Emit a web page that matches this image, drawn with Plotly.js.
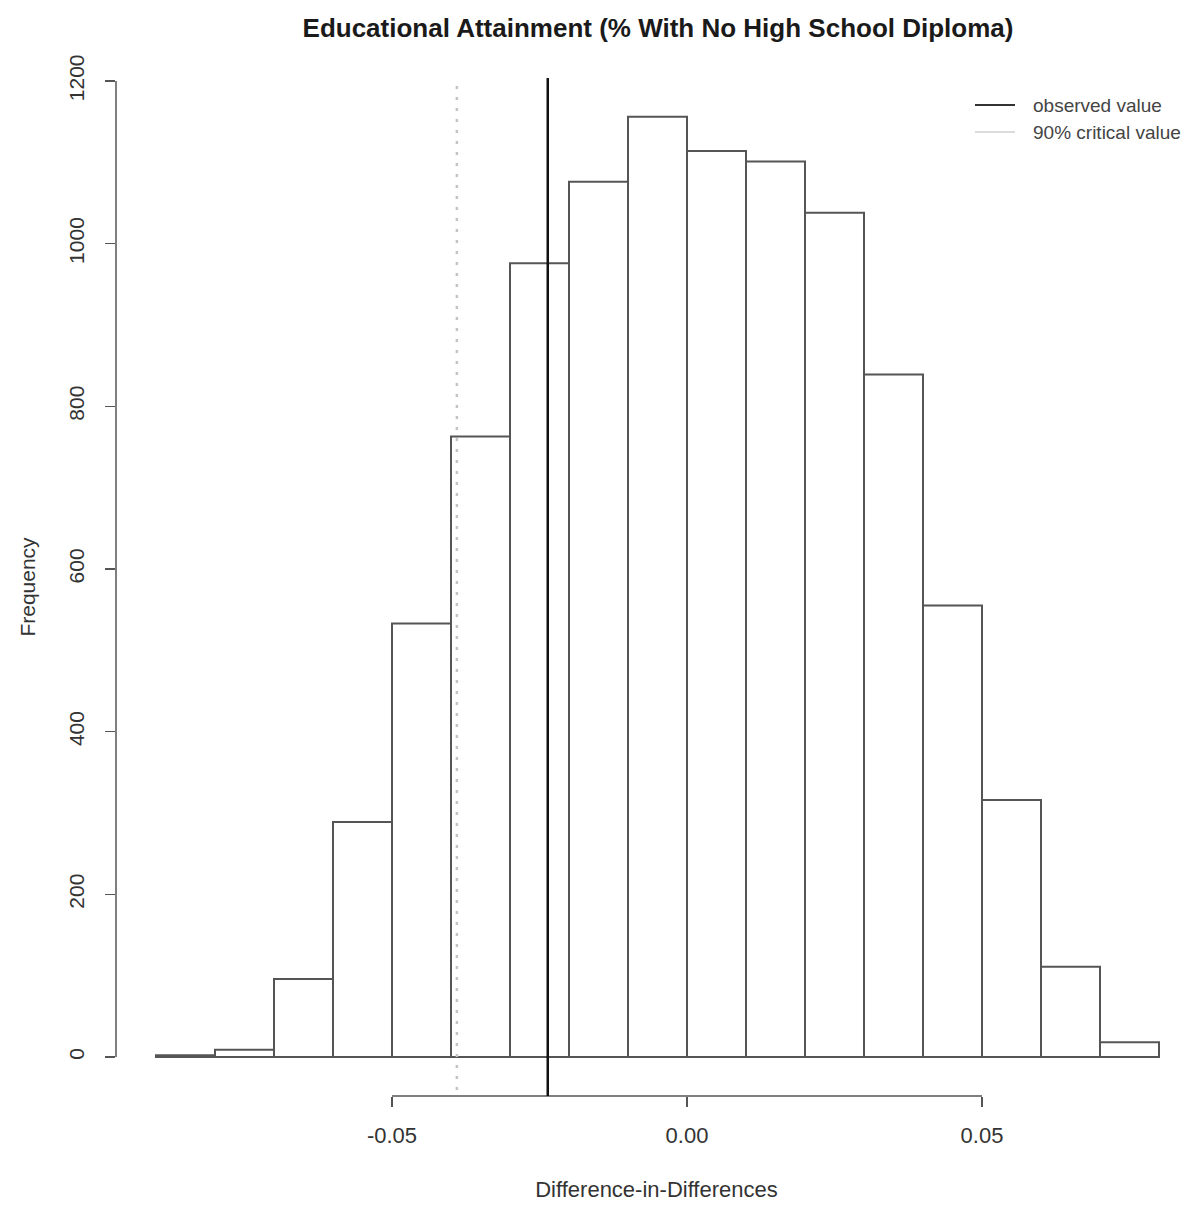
<!DOCTYPE html>
<html>
<head>
<meta charset="utf-8">
<script src="https://cdn.plot.ly/plotly-3.0.1.min.js"></script>
<style>html,body{margin:0;padding:0;background:#fff;}#chart{width:1197px;height:1207px;}</style>
</head>
<body>
<div id="chart"></div>
<script>
// Histogram bins (left edges) and counts
const binStarts = [-0.09,-0.08,-0.07,-0.06,-0.05,-0.04,-0.03,-0.02,-0.01,0.00,0.01,0.02,0.03,0.04,0.05,0.06,0.07];
const binWidth = 0.01;
const counts = [2,9,96,289,533,763,976,1076,1156,1114,1101,1038,839,555,316,111,18];
const observedValue = -0.0236;
const criticalValue = -0.039;
const xTickVals = [-0.05,0,0.05];
const xTickText = ["-0.05","0.00","0.05"];
const yTickVals = [0,200,400,600,800,1000,1200];
const yTickText = ["0","200","400","600","800","1000","1200"];
const legendLabels = ["observed value","90% critical value"];

const centers = binStarts.map(s => s + binWidth/2);
const font = "Liberation Sans, Arial, sans-serif";

const traces = [{
  type: 'bar',
  x: centers,
  y: counts,
  width: binWidth,
  marker: {color: 'rgba(255,255,255,1)', line: {color: '#555', width: 2}},
  showlegend: false,
  hoverinfo: 'x+y'
}];

// page geometry (pixels)
const W = 1197, H = 1207;
const pxPerUnit = 5900, zeroPx = 687;
const plotLeft = 116, plotRight = 1197;
const plotTop = 78, plotBottom = 1096;
const y0px = 1057, y1200px = 81;
const yPx = (y0px - y1200px)/1200;
const pw = plotRight - plotLeft, ph = plotBottom - plotTop;
const px2x = p => (p - plotLeft)/pw;
const px2y = p => (plotBottom - p)/ph;

const shapes = [
  // y axis line 0..1200
  {type:'line', xref:'paper', yref:'y', x0:0, x1:0, y0:yTickVals[0], y1:yTickVals[yTickVals.length-1], line:{color:'#555', width:1.5}},
  // x axis line -0.05..0.05
  {type:'line', xref:'x', yref:'paper', x0:xTickVals[0], x1:xTickVals[xTickVals.length-1], y0:0, y1:0, line:{color:'#555', width:1.5}},
  // critical value (dotted light grey)
  {type:'line', xref:'x', yref:'paper', x0:criticalValue, x1:criticalValue, y0:0.006, y1:px2y(84), line:{color:'#c4c4c4', width:2.5, dash:'3px,8px'}},
  // observed value
  {type:'line', xref:'x', yref:'paper', x0:observedValue, x1:observedValue, y0:0, y1:1, line:{color:'#111', width:2.5}},
  // legend samples
  {type:'line', xref:'paper', yref:'paper', x0:px2x(975), x1:px2x(1015), y0:px2y(105), y1:px2y(105), line:{color:'#333', width:2}},
  {type:'line', xref:'paper', yref:'paper', x0:px2x(975), x1:px2x(1015), y0:px2y(132), y1:px2y(132), line:{color:'#dcdcdc', width:2}}
];

const annotations = legendLabels.map((t, i) => ({
  text: t, xref:'paper', yref:'paper', x: px2x(1031), y: px2y(i === 0 ? 105 : 132),
  xanchor:'left', yanchor:'middle', showarrow:false,
  font:{family: font, size: 19, color:'#444'}
}));

const layout = {
  width: W, height: H,
  margin: {l: plotLeft, r: W-plotRight, t: plotTop, b: H-plotBottom},
  paper_bgcolor: '#fff', plot_bgcolor: '#fff',
  bargap: 0,
  showlegend: false,
  title: {text: 'Educational Attainment (% With No High School Diploma)', font: {family: font, size: 26, color: '#1a1a1a', weight: 'bold'}, x: px2x(658), xanchor: 'center', y: 1-28/H, yanchor: 'middle', xref: 'paper'},
  xaxis: {
    range: [(plotLeft-zeroPx)/pxPerUnit, (plotRight-zeroPx)/pxPerUnit],
    tickvals: xTickVals, ticktext: xTickText,
    ticks: 'outside', ticklen: 10, tickwidth: 1.5, tickcolor: '#555',
    showline: false, showgrid: false, zeroline: false, automargin: false,
    ticklabelstandoff: 10,
    tickfont: {family: font, size: 22, color: '#333'},
    title: {text: 'Difference-in-Differences', font: {family: font, size: 22, color: '#333'}, standoff: 34}
  },
  yaxis: {
    range: [-(plotBottom-y0px)/yPx, 1200 + (y1200px-plotTop)/yPx],
    tickvals: yTickVals, ticktext: yTickText,
    ticks: 'outside', ticklen: 10, tickwidth: 1.5, tickcolor: '#555',
    tickangle: -90,
    showline: false, showgrid: false, zeroline: false, automargin: false,
    ticklabelstandoff: 13,
    tickfont: {family: font, size: 21, color: '#333'},
    title: {text: 'Frequency', font: {family: font, size: 21, color: '#333'}, standoff: 23}
  },
  shapes: shapes,
  annotations: annotations
};

Plotly.newPlot('chart', traces, layout, {displayModeBar: false, staticPlot: true});
</script>
</body>
</html>
